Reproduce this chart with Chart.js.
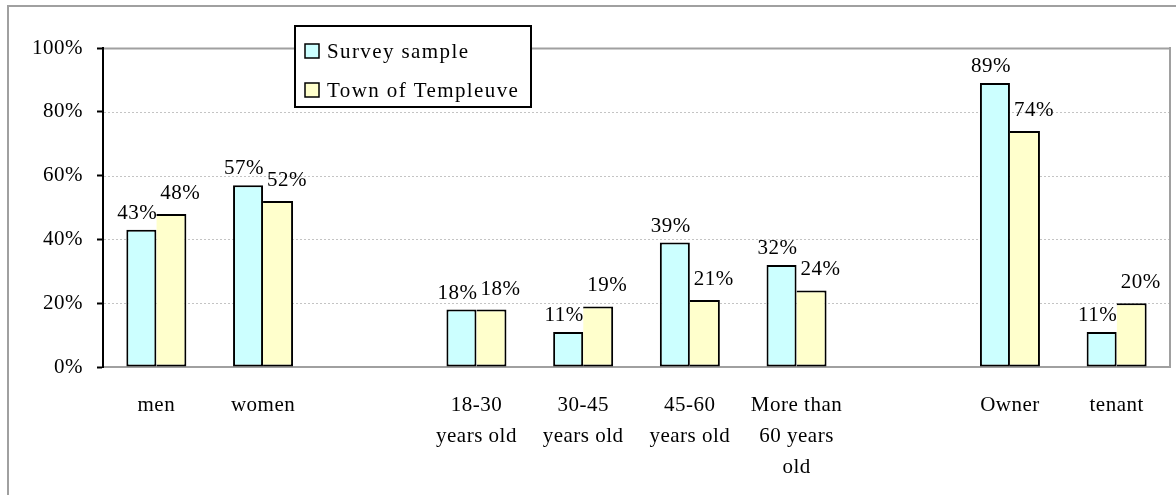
<!DOCTYPE html>
<html>
<head>
<meta charset="utf-8">
<script src="https://cdn.jsdelivr.net/npm/chart.js@4.4.1/dist/chart.umd.min.js"></script>
<style>
html, body { margin: 0; padding: 0; background: #fff; }
#wrap { width: 1176px; height: 495px; position: relative; }
</style>
</head>
<body>
<div id="wrap"><canvas id="chart1"></canvas></div>
<script>
// chart values
const categories = [
    'men', 'women', '',
    ['18-30', 'years old'], ['30-45', 'years old'], ['45-60', 'years old'], ['More than', '60 years', 'old'],
    '', 'Owner', 'tenant'
];
const surveySample    = [43, 57, null, 18, 11, 39, 32, null, 89, 11];
const townOfTempleuve = [48, 52, null, 18, 19, 21, 24, null, 74, 20];
const seriesNames = ['Survey sample', 'Town of Templeuve'];
const yTicks = [0, 20, 40, 60, 80, 100];

const serif = '"Liberation Serif", "Times New Roman", serif';
Chart.defaults.font.family = serif;
Chart.defaults.font.size = 21;
Chart.defaults.color = '#000';

const decor = {
    id: 'decor',
    beforeDraw(chart) {
        const ctx = chart.ctx;
        ctx.letterSpacing = '0.5px';
        ctx.save();
        ctx.fillStyle = '#fff';
        ctx.fillRect(0, 0, chart.width, chart.height);
        // outer frame
        ctx.strokeStyle = '#a0a0a0';
        ctx.lineWidth = 2;
        ctx.beginPath();
        ctx.moveTo(8, chart.height);
        ctx.lineTo(8, 6);
        ctx.lineTo(chart.width, 6);
        ctx.stroke();
        ctx.restore();
    },
    beforeDatasetsDraw(chart) {
        const ctx = chart.ctx;
        const y = chart.scales.y;
        const a = chart.chartArea;
        ctx.save();
        for (const v of yTicks) {
            if (v === 0) continue;
            const py = Math.round(y.getPixelForValue(v)) + 0.5;
            ctx.beginPath();
            if (v === 100) {
                ctx.strokeStyle = '#a0a0a0';
                ctx.lineWidth = 2;
                ctx.setLineDash([]);
            } else {
                ctx.strokeStyle = '#c4c4c4';
                ctx.lineWidth = 1;
                ctx.setLineDash([2, 2]);
            }
            ctx.moveTo(a.left + 1, py);
            ctx.lineTo(a.right, py);
            ctx.stroke();
        }
        // right side of plot area
        ctx.setLineDash([]);
        ctx.strokeStyle = '#a0a0a0';
        ctx.lineWidth = 2;
        ctx.beginPath();
        ctx.moveTo(a.right, a.top - 1);
        ctx.lineTo(a.right, a.bottom);
        ctx.stroke();
        ctx.restore();
    },
    afterDatasetsDraw(chart) {
        const ctx = chart.ctx;
        ctx.save();
        ctx.font = '21px ' + serif;
        ctx.letterSpacing = '0.5px';
        ctx.fillStyle = '#000';
        ctx.textAlign = 'center';
        ctx.textBaseline = 'alphabetic';
        const dx = [-4, 9];
        const gap = [11, 15];
        chart.data.datasets.forEach((ds, i) => {
            const meta = chart.getDatasetMeta(i);
            meta.data.forEach((el, j) => {
                const v = ds.data[j];
                if (v == null) return;
                ctx.fillText(v + '%', el.x + dx[i], el.y - gap[i]);
            });
        });
        ctx.restore();
    },
    afterDraw(chart) {
        // legend box
        const ctx = chart.ctx;
        ctx.save();
        ctx.fillStyle = '#fff';
        ctx.fillRect(295, 26, 236, 81);
        ctx.strokeStyle = '#000';
        ctx.lineWidth = 2;
        ctx.strokeRect(295, 26, 236, 81);
        ctx.font = '21px ' + serif;
        ctx.letterSpacing = '1.4px';
        ctx.textBaseline = 'middle';
        ctx.textAlign = 'left';
        const rows = [51, 90];
        chart.data.datasets.forEach((ds, i) => {
            ctx.fillStyle = ds.backgroundColor;
            ctx.fillRect(305, rows[i] - 7, 14, 14);
            ctx.lineWidth = 1.5;
            ctx.strokeStyle = '#000';
            ctx.strokeRect(305, rows[i] - 7, 14, 14);
            ctx.fillStyle = '#000';
            ctx.fillText(seriesNames[i], 327, rows[i] + 1);
        });
        ctx.restore();
    }
};

const c1 = document.getElementById('chart1');
const chartObject1 = new Chart(c1, {
    type: 'bar',
    data: {
        labels: categories,
        datasets: [{
            label: seriesNames[0],
            data: surveySample,
            backgroundColor: '#ccffff',
            borderColor: '#000',
            borderWidth: 2,
            borderSkipped: false
        }, {
            label: seriesNames[1],
            data: townOfTempleuve,
            backgroundColor: '#ffffcc',
            borderColor: '#000',
            borderWidth: { left: 0, top: 2, right: 2, bottom: 2 },
            borderSkipped: false
        }]
    },
    options: {
        responsive: true,
        maintainAspectRatio: false,
        animation: false,
        devicePixelRatio: 1,
        categoryPercentage: 0.5625,
        barPercentage: 1,
        layout: { padding: { left: 0, top: 48, right: 6, bottom: 0 } },
        plugins: {
            legend: { display: false },
            tooltip: { enabled: false }
        },
        scales: {
            x: {
                grid: { display: false },
                border: { color: '#a0a0a0', width: 2 },
                ticks: {
                    autoSkip: false,
                    maxRotation: 0,
                    padding: 15,
                    font: { size: 21, lineHeight: 1.476 }
                },
                afterFit: s => { s.height = 128; }
            },
            y: {
                min: 0,
                max: 100,
                grid: {
                    drawOnChartArea: false,
                    tickColor: '#000',
                    tickLength: 6,
                    tickWidth: 2
                },
                border: { color: '#000', width: 2 },
                ticks: {
                    padding: 14,
                    callback: v => v + '%'
                },
                afterBuildTicks: s => { s.ticks = yTicks.map(v => ({ value: v })); },
                afterFit: s => { s.width = 103; }
            }
        }
    },
    plugins: [decor]
});
</script>
</body>
</html>
